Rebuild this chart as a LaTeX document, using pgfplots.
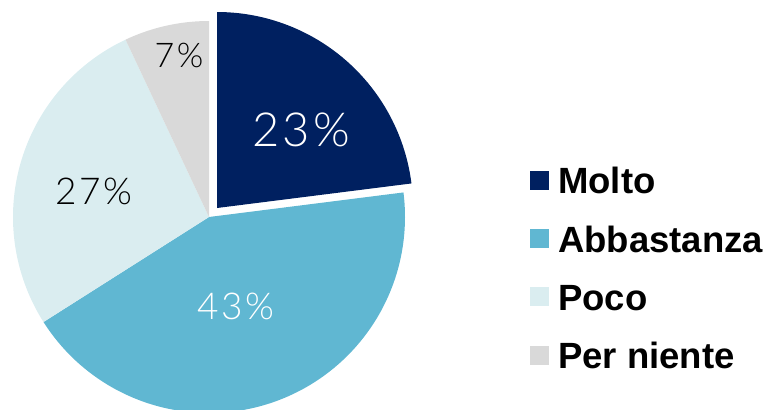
\documentclass[border=0pt]{standalone}
\usepackage{pgfplots}
\pgfplotsset{compat=1.18}
\usepackage{fontspec}
\setmainfont{Liberation Sans}
\newfontfamily\pct{Lato Light}[LetterSpace=7]
\definecolor{molto}{RGB}{0,32,96}
\definecolor{abba}{RGB}{96,183,210}
\definecolor{poco}{RGB}{218,237,240}
\definecolor{niente}{RGB}{217,217,217}
% shares in percent
\def\pA{23}\def\pB{43}\def\pC{27}\def\pD{7}
\begin{document}%
\begin{tikzpicture}
\pgfmathsetmacro\aA{90}
\pgfmathsetmacro\aB{\aA-3.6*\pA}
\pgfmathsetmacro\aC{\aB-3.6*\pB}
\pgfmathsetmacro\aD{\aC-3.6*\pC}
\pgfmathsetmacro\aE{\aD-3.6*\pD}
\begin{axis}[
  name=ax,
  x=1bp, y=1bp,
  xmin=0, xmax=769, ymin=0, ymax=409,
  xtick=\empty, ytick=\empty,
  hide axis, clip=true,
  legend cell align=left,
  legend image code/.code={\fill[#1] (0bp,-9bp) rectangle (19bp,10bp);},
  legend style={
    at={(axis cs:530,241.5)}, anchor=north west,
    draw=none, fill=none, inner sep=0pt,
    font=\bfseries\fontsize{36.5bp}{40bp}\selectfont,
    row sep=32.3bp,
    nodes={inner sep=0pt, text height=26bp, text depth=0bp},
    /tikz/every odd column/.append style={column sep=9bp},
  },
]
\addplot[fill=molto, draw=none, domain=\aB:\aA, samples=90, variable=\t]
  ({217+196*cos(\t)}, {201+196*sin(\t)}) -- (axis cs:217,201) -- cycle;
\addplot[fill=abba, draw=none, domain=\aC:\aB, samples=150, variable=\t]
  ({209+196*cos(\t)}, {192+196*sin(\t)}) -- (axis cs:209,192) -- cycle;
\addplot[fill=poco, draw=none, domain=\aD:\aC, samples=100, variable=\t]
  ({209+196*cos(\t)}, {192+196*sin(\t)}) -- (axis cs:209,192) -- cycle;
\addplot[fill=niente, draw=none, domain=\aE:\aD, samples=40, variable=\t]
  ({209+196*cos(\t)}, {192+196*sin(\t)}) -- (axis cs:209,192) -- cycle;
\legend{Molto, Abbastanza, Poco, Per niente}
\node[text=white, font=\pct\fontsize{47bp}{50bp}\selectfont] at (axis cs:301,279) {23\%};
\node[text=white, font=\pct\fontsize{37bp}{40bp}\selectfont] at (axis cs:236,103) {43\%};
\node[text=black, font=\pct\fontsize{37bp}{40bp}\selectfont] at (axis cs:94,218) {27\%};
\node[text=black, font=\pct\fontsize{34bp}{37bp}\selectfont] at (axis cs:179,354) {7\%};
\end{axis}
\pgfresetboundingbox
\path (ax.south west) rectangle (ax.north east);
\end{tikzpicture}%
\end{document}
